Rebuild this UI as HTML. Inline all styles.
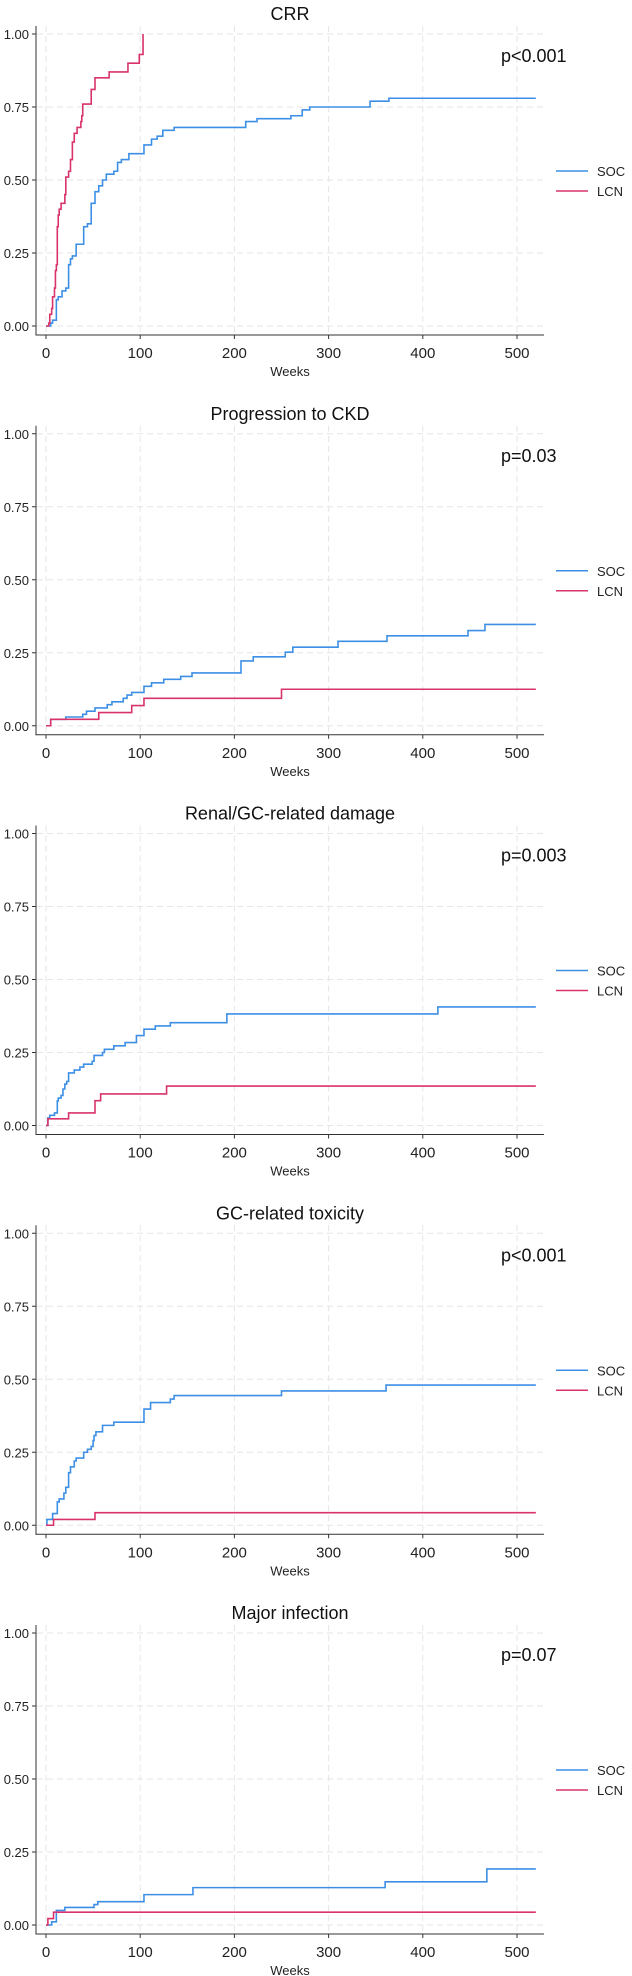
<!DOCTYPE html>
<html><head><meta charset="utf-8"><style>
html,body{margin:0;padding:0;background:#fff;}
svg{display:block;font-family:"Liberation Sans",Arial,sans-serif;}
</style></head><body>
<svg id="chart" width="632" height="1976" viewBox="0 0 632 1976" xmlns="http://www.w3.org/2000/svg"></svg>
<script>
const panelTitles = ["CRR","Progression to CKD","Renal/GC-related damage","GC-related toxicity","Major infection"];
const pValues = ["p<0.001","p=0.03","p=0.003","p<0.001","p=0.07"];
const xTicks = [0,100,200,300,400,500];
const yTicks = [0,0.25,0.5,0.75,1];
const yTickLabels = ["0.00","0.25","0.50","0.75","1.00"];
const seriesNames = ["SOC","LCN"];
const socCRR = [[0,0],[5,.01],[7,.02],[11,.09],[13,.10],[17,.12],[21,.13],[24,.21],[26,.23],[28,.24],[32,.28],[40,.34],[44,.35],[48,.42],[52,.46],[56,.48],[60,.50],[64,.52],[72,.53],[76,.56],[80,.57],[88,.59],[104,.62],[112,.64],[118,.65],[124,.67],[136,.68],[212,.70],[224,.71],[260,.72],[272,.74],[280,.75],[344,.77],[364,.78],[520,.78]];
const lcnCRR = [[0,0],[3,.01],[4,.04],[6,.06],[7,.10],[9,.13],[10,.19],[11,.21],[12,.34],[13,.38],[14,.40],[16,.42],[20,.45],[21,.51],[24,.53],[26,.57],[28,.63],[30,.66],[33,.68],[37,.70],[38,.72],[39,.76],[48,.81],[52,.85],[67,.87],[87,.90],[99,.93],[103,1.0],[103,1.0]];
const socCKD = [[0,0],[5,.022],[21,.03],[39,.039],[43,.05],[52,.061],[65,.072],[70,.082],[82,.094],[86,.105],[91,.114],[104,.135],[112,.147],[125,.159],[143,.169],[155,.181],[207,.222],[220,.236],[254,.252],[262,.269],[310,.289],[362,.308],[448,.326],[466,.347],[520,.347]];
const lcnCKD = [[0,0],[5,.022],[56,.045],[91,.069],[104,.094],[250,.125],[520,.125]];
const socDamage = [[0,0],[2,.026],[4,.035],[9,.043],[12,.084],[13,.094],[16,.103],[18,.125],[20,.142],[22,.151],[24,.18],[30,.19],[36,.2],[40,.21],[49,.22],[51,.24],[60,.25],[62,.261],[72,.273],[84,.284],[96,.308],[104,.33],[116,.341],[132,.352],[192,.382],[416,.406],[520,.406]];
const lcnDamage = [[0,0],[2,.023],[24,.043],[52,.085],[58,.108],[128,.135],[520,.135]];
const socTox = [[0,0],[1,.02],[7,.04],[12,.08],[14,.09],[19,.11],[21,.13],[24,.18],[26,.2],[30,.22],[32,.23],[40,.25],[44,.26],[48,.27],[50,.29],[51,.307],[53,.32],[60,.342],[72,.353],[104,.398],[111,.42],[132,.432],[136,.444],[250,.46],[361,.48],[520,.48]];
const lcnTox = [[0,0],[8,.02],[52,.043],[520,.043]];
const socInf = [[0,0],[6,.011],[11,.05],[20,.06],[51,.07],[55,.08],[104,.104],[156,.128],[360,.148],[468,.192],[520,.192]];
const lcnInf = [[0,0],[2,.022],[8,.044],[520,.044]];
const socSeries = [socCRR,socCKD,socDamage,socTox,socInf];
const lcnSeries = [lcnCRR,lcnCKD,lcnDamage,lcnTox,lcnInf];

const NS="http://www.w3.org/2000/svg";
const svg=document.getElementById('chart');
const PH=399.75, X0=46, XS=471/500, Y0=326, YH=292;
const colors=["#3d8fe6","#d8336b"];
function mk(tag,attrs,parent){const e=document.createElementNS(NS,tag);for(const k in attrs)e.setAttribute(k,attrs[k]);parent.appendChild(e);return e;}
function sx(w){return X0+w*XS;}

panelTitles.forEach((title,i)=>{
  const off=i*PH;
  const sy=v=>off+Y0-v*YH;
  const g=mk('g',{},svg);
  
  
  yTicks.forEach((v,j)=>{
    const l=mk('line',{x1:37,x2:544,y1:sy(v),y2:sy(v),stroke:'#e6e6e6','stroke-width':1,'stroke-dasharray':'6,4'},g);
    
    
    const t=mk('line',{x1:32,x2:36,y1:sy(v),y2:sy(v),stroke:'#333','stroke-width':1},g);
    
    
    const tx=mk('text',{x:29,y:sy(v)+5,'text-anchor':'end','font-size':13,fill:'#222'},g);
    tx.textContent=yTickLabels[j];
    
    
  });
  xTicks.forEach(v=>{
    const l=mk('line',{x1:sx(v),x2:sx(v),y1:off+26,y2:off+334,stroke:'#e6e6e6','stroke-width':1,'stroke-dasharray':'6,4'},g);
    
    
    const t=mk('line',{x1:sx(v),x2:sx(v),y1:off+335,y2:off+339,stroke:'#333','stroke-width':1},g);
    
    
    const tx=mk('text',{x:sx(v),y:off+358,'text-anchor':'middle','font-size':15,fill:'#222'},g);
    tx.textContent=String(v);
    
    
  });
  const ya=mk('line',{x1:36,x2:36,y1:off+26,y2:off+335.5,stroke:'#333','stroke-width':1},g);
  
  
  const xa=mk('line',{x1:35.5,x2:544,y1:off+335,y2:off+335,stroke:'#333','stroke-width':1},g);
  
  
  [socSeries[i],lcnSeries[i]].forEach((data,k)=>{
    let d='M'+sx(data[0][0])+','+sy(data[0][1]);
    for(let m=1;m<data.length;m++){d+=' H'+sx(data[m][0])+' V'+sy(data[m][1]);}
    const p=mk('path',{d:d,fill:'none',stroke:colors[k],'stroke-width':1.6},g);
    
    
  });
  const tt=mk('text',{x:290,y:off+20,'text-anchor':'middle','font-size':18,fill:'#111'},g);
  tt.textContent=title;
  
  
  const pv=mk('text',{x:501,y:off+62,'font-size':18,fill:'#111'},g);
  pv.textContent=pValues[i];
  
  
  const wk=mk('text',{x:290,y:off+376,'text-anchor':'middle','font-size':13,fill:'#222'},g);
  wk.textContent='Weeks';
  
  
  seriesNames.forEach((n,k)=>{
    const ly=off+171+k*20;
    const ll=mk('line',{x1:556,x2:588,y1:ly,y2:ly,stroke:colors[k],'stroke-width':1.6},g);
    
    
    const lt=mk('text',{x:597,y:ly+5,'font-size':13,fill:'#222'},g);
    lt.textContent=n;
    
    
  });
});
</script>
</body></html>
